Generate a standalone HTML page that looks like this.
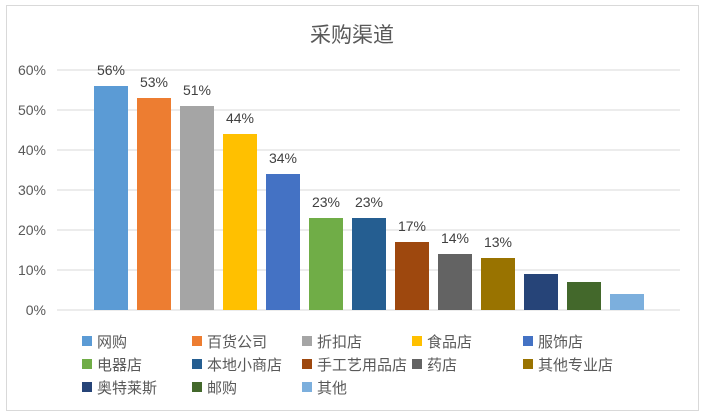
<!DOCTYPE html>
<html><head><meta charset="utf-8"><style>
body{margin:0;background:#fff;}
svg{display:block;font-family:"Liberation Sans","Noto Sans CJK SC",sans-serif;}
</style></head><body>
<svg width="704" height="417">
<rect x="6.5" y="5.5" width="692" height="405" fill="#fff" stroke="#d9d9d9"/>
<text x="352" y="42" text-anchor="middle" font-size="21" fill="#595959">采购渠道</text>
<g id="grid"></g><g id="bars"></g><g id="legend"></g>
</svg>
<script>
const categories=["网购","百货公司","折扣店","食品店","服饰店","电器店","本地小商店","手工艺用品店","药店","其他专业店","奥特莱斯","邮购","其他"];
const values=[56,53,51,44,34,23,23,17,14,13,9,7,4];
const labels=["56%","53%","51%","44%","34%","23%","23%","17%","14%","13%","","",""];
const ticks=[0,10,20,30,40,50,60];
const colors=["#5b9bd5","#ed7d31","#a5a5a5","#ffc000","#4472c4","#70ad47","#255e91","#9e480e","#636363","#997300","#264478","#43682b","#7cafdd"];
const NS="http://www.w3.org/2000/svg";
const y=v=>310-v*4;
const x=i=>94+43*i;
function mk(t,a,p){const e=document.createElementNS(NS,t);for(const k in a)e.setAttribute(k,a[k]);p.appendChild(e);return e;}
const g=document.getElementById('grid');
ticks.forEach(t=>{
 const l=mk('line',{x1:57,x2:680,y1:y(t),y2:y(t),stroke:'#d9d9d9'},g);
 
 
 const tx=mk('text',{x:46,y:y(t)+5,'text-anchor':'end','font-size':14,fill:'#595959'},g);
 tx.textContent=t+'%';
 
 
});
const b=document.getElementById('bars');
values.forEach((v,i)=>{
 const r=mk('rect',{x:x(i),y:y(v),width:34,height:v*4,fill:colors[i]},b);
 
 
 if(labels[i]){
  const t=mk('text',{x:x(i)+17,y:y(v)-11,'text-anchor':'middle','font-size':14,fill:'#404040'},b);
  t.textContent=labels[i];
  
  
 }
});
const lg=document.getElementById('legend');
const cols=[82,192,302,412,523], rows=[341,364,387];
categories.forEach((c,i)=>{
 const cx=cols[i%5], cy=rows[Math.floor(i/5)];
 const s=mk('rect',{x:cx,y:cy-5,width:10,height:10,fill:colors[i]},lg);
 
 
 const t=mk('text',{x:cx+15,y:cy+6,'font-size':15,fill:'#595959'},lg);
 t.textContent=c;
 
 
});
</script>
</body></html>
